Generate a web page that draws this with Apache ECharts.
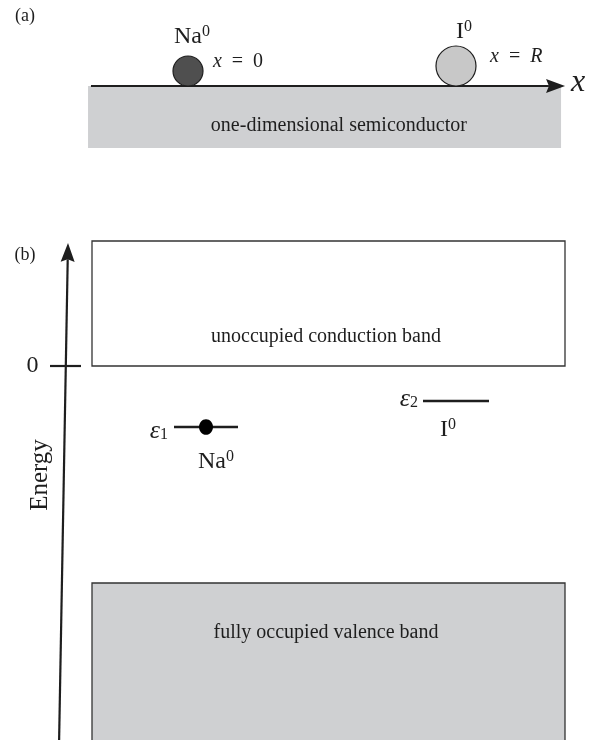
<!DOCTYPE html>
<html><head><meta charset="utf-8">
<script src="https://cdn.jsdelivr.net/npm/echarts@6/dist/echarts.min.js"></script>
<style>html,body{margin:0;padding:0;background:#fff}#c{width:598px;height:740px}</style>
</head><body><div id="c"></div>
<script>
// ---------- Panel (a): x in units of R (Na at x=0, I at x=R=1); height in tenths above the surface ----------
const semiconductorA = [[-0.373, 0, 1.392, -6.2]];      // [xStart, yTop, xEnd, yBottom]
const surfaceAxisA = [[-0.362, 0, 1.407, 0]];           // [x0, y0, x1, y1] arrow
const atomNames = ['Na', 'I'];
const atomX = [0, 1];                                    // x/R
const atomCenterHeight = [1.5, 2.0];
const atomRadius = [1.5, 2.0];

// ---------- Panel (b): horizontal in diagram units, energy in arbitrary units (0 = conduction band edge) ----------
const conductionBand = [[9.2, 12.5, 56.5, 0]];
const valenceBand = [[9.2, -21.7, 56.5, -38]];
const energyAxis = [[5.9, -38, 6.8, 12.3]];
const zeroTick = [[5.0, 0, 8.1, 0]];
const levelNames = ['ε1', 'ε2'];
const levelEnergy = [-6.1, -3.5];
const levelStart = [17.4, 42.3];
const levelEnd = [23.8, 48.9];
const electronX = [20.6];
const electronLevel = [-6.1];

// ---------- Text labels ----------
const labelsA = [
  { text: '{p|(a)}', x: -0.608, y: 7.0, align: 'center' },
  { text: '{n|Na}{s|0}', x: 0.015, y: 4.9, align: 'center' },
  { text: '{mi|x}{m|  =  0}', x: 0.093, y: 2.4, align: 'left' },
  { text: '{n|I}{s|0}', x: 1.030, y: 5.4, align: 'center' },
  { text: '{mi|x}{m|  =  }{mi|R}', x: 1.127, y: 2.9, align: 'left' },
  { text: '{X|x}', x: 1.429, y: 0.3, align: 'left' },
  { text: '{t|one-dimensional semiconductor}', x: 0.563, y: -4.0, align: 'center' }
];
const labelsB = [
  { text: '{p|(b)}', x: 2.5, y: 11.1, align: 'center' },
  { text: '{z|0}', x: 3.25, y: 0, align: 'center' },
  { text: '{e|Energy}', x: 4.0, y: -10.9, align: 'center', rot: Math.PI / 2 },
  { text: '{t|unoccupied conduction band}', x: 32.6, y: 2.9, align: 'center' },
  { text: '{t|fully occupied valence band}', x: 32.6, y: -26.7, align: 'center' },
  { text: '{eps|ε}{sub|1}', x: 16.8, y: -6.5, align: 'right' },
  { text: '{n|Na}{s|0}', x: 21.6, y: -9.6, align: 'center' },
  { text: '{eps|ε}{sub|2}', x: 41.8, y: -3.3, align: 'right' },
  { text: '{n|I}{s|0}', x: 44.8, y: -6.4, align: 'center' }
];

const SERIF = '"Liberation Serif", "DejaVu Serif", serif';
const INK = '#1e1e1e';
const RICH = {
  p: { fontFamily: SERIF, fontSize: 18, fill: INK },
  n: { fontFamily: SERIF, fontSize: 24, lineHeight: 26, fill: INK },
  s: { fontFamily: SERIF, fontSize: 16, lineHeight: 16, verticalAlign: 'top', fill: INK },
  mi: { fontFamily: SERIF, fontStyle: 'italic', fontSize: 20, fill: INK },
  m: { fontFamily: SERIF, fontSize: 20, fill: INK },
  X: { fontFamily: SERIF, fontStyle: 'italic', fontSize: 32, fill: INK },
  t: { fontFamily: SERIF, fontSize: 20, fill: INK },
  z: { fontFamily: SERIF, fontSize: 24, fill: INK },
  e: { fontFamily: SERIF, fontSize: 25, fill: INK },
  eps: { fontFamily: SERIF, fontStyle: 'italic', fontSize: 26, lineHeight: 24, fill: INK },
  sub: { fontFamily: SERIF, fontSize: 16, lineHeight: 16, verticalAlign: 'bottom', fill: INK }
};

function rectItem(fill, stroke, lw) {
  return function (params, api) {
    const p0 = api.coord([api.value(0), api.value(1)]);
    const p1 = api.coord([api.value(2), api.value(3)]);
    return {
      type: 'rect',
      shape: { x: Math.min(p0[0], p1[0]), y: Math.min(p0[1], p1[1]), width: Math.abs(p1[0] - p0[0]), height: Math.abs(p1[1] - p0[1]) },
      style: { fill: fill, stroke: stroke, lineWidth: lw }
    };
  };
}
function arrowItem(lw, headLen, headHalf) {
  return function (params, api) {
    const p0 = api.coord([api.value(0), api.value(1)]);
    const p1 = api.coord([api.value(2), api.value(3)]);
    const dx = p1[0] - p0[0], dy = p1[1] - p0[1];
    const L = Math.sqrt(dx * dx + dy * dy);
    const ux = dx / L, uy = dy / L, nx = -uy, ny = ux;
    const bx = p1[0] - ux * headLen, by = p1[1] - uy * headLen;
    const notchX = p1[0] - ux * headLen * 0.85, notchY = p1[1] - uy * headLen * 0.85;
    return {
      type: 'group',
      children: [
        { type: 'line', shape: { x1: p0[0], y1: p0[1], x2: notchX, y2: notchY }, style: { stroke: INK, lineWidth: lw } },
        { type: 'polygon', shape: { points: [[p1[0], p1[1]], [bx + nx * headHalf, by + ny * headHalf], [notchX, notchY], [bx - nx * headHalf, by - ny * headHalf]] }, style: { fill: INK } }
      ]
    };
  };
}
function segItem(lw) {
  return function (params, api) {
    const p0 = api.coord([api.value(0), api.value(1)]);
    const p1 = api.coord([api.value(2), api.value(3)]);
    return { type: 'line', shape: { x1: p0[0], y1: p0[1], x2: p1[0], y2: p1[1] }, style: { stroke: INK, lineWidth: lw } };
  };
}
function textItem(list) {
  return function (params, api) {
    const L = list[params.dataIndex];
    const p = api.coord([api.value(0), api.value(1)]);
    return {
      type: 'text', x: p[0], y: p[1], rotation: L.rot || 0,
      style: { text: L.text, rich: RICH, fontFamily: SERIF, fontSize: 20, fill: INK, align: L.align, verticalAlign: 'middle' }
    };
  };
}

const atomData = atomX.map((x, i) => [x, atomCenterHeight[i], atomRadius[i]]);
const atomFill = ['#4f4f4f', '#c8c8c8'];
const levelData = levelEnergy.map((e, i) => [levelStart[i], e, levelEnd[i], e]);
const electronData = electronX.map((x, i) => [x, electronLevel[i]]);

const chart = echarts.init(document.getElementById('c'), null, { renderer: 'canvas' });
chart.setOption({
  animation: false,
  backgroundColor: '#ffffff',
  grid: [
    { left: 0, top: 0, width: 598, height: 200 },
    { left: 0, top: 200, width: 598, height: 540 }
  ],
  xAxis: [
    { type: 'value', gridIndex: 0, min: -0.7015, max: 1.5299, show: false },
    { type: 'value', gridIndex: 1, min: 0, max: 59.8, show: false }
  ],
  yAxis: [
    { type: 'value', gridIndex: 0, min: -11.4, max: 8.6, show: false },
    { type: 'value', gridIndex: 1, min: -37.4, max: 16.6, show: false }
  ],
  series: [
    { type: 'custom', name: 'semiconductor', xAxisIndex: 0, yAxisIndex: 0, data: semiconductorA, renderItem: rectItem('#cfd0d2', 'none', 0), silent: true },
    { type: 'custom', name: 'x axis', xAxisIndex: 0, yAxisIndex: 0, data: surfaceAxisA, renderItem: arrowItem(2.2, 19, 7), silent: true },
    {
      type: 'custom', name: 'atoms', xAxisIndex: 0, yAxisIndex: 0, data: atomData, silent: true,
      renderItem: function (params, api) {
        const c = api.coord([api.value(0), api.value(1)]);
        const r = api.size([0, api.value(2)])[1];
        return { type: 'circle', shape: { cx: c[0], cy: c[1], r: r }, style: { fill: atomFill[params.dataIndex], stroke: INK, lineWidth: 1.2 } };
      }
    },
    { type: 'custom', name: 'labels a', xAxisIndex: 0, yAxisIndex: 0, data: labelsA.map(l => [l.x, l.y]), renderItem: textItem(labelsA), silent: true },

    { type: 'custom', name: 'conduction band', xAxisIndex: 1, yAxisIndex: 1, data: conductionBand, renderItem: rectItem('#ffffff', '#333333', 1.3), silent: true },
    { type: 'custom', name: 'valence band', xAxisIndex: 1, yAxisIndex: 1, data: valenceBand, renderItem: rectItem('#cfd0d2', '#333333', 1.3), silent: true },
    { type: 'custom', name: 'energy axis', xAxisIndex: 1, yAxisIndex: 1, data: energyAxis, renderItem: arrowItem(2.2, 19, 7), silent: true },
    { type: 'custom', name: 'zero tick', xAxisIndex: 1, yAxisIndex: 1, data: zeroTick, renderItem: segItem(2.2), silent: true },
    { type: 'custom', name: 'levels', xAxisIndex: 1, yAxisIndex: 1, data: levelData, renderItem: segItem(2.6), silent: true },
    {
      type: 'custom', name: 'electron', xAxisIndex: 1, yAxisIndex: 1, data: electronData, silent: true,
      renderItem: function (params, api) {
        const c = api.coord([api.value(0), api.value(1)]);
        return { type: 'ellipse', shape: { cx: c[0], cy: c[1], rx: 7, ry: 7.8 }, style: { fill: '#000000' } };
      }
    },
    { type: 'custom', name: 'labels b', xAxisIndex: 1, yAxisIndex: 1, data: labelsB.map(l => [l.x, l.y]), renderItem: textItem(labelsB), silent: true }
  ]
});
</script>
</body></html>
